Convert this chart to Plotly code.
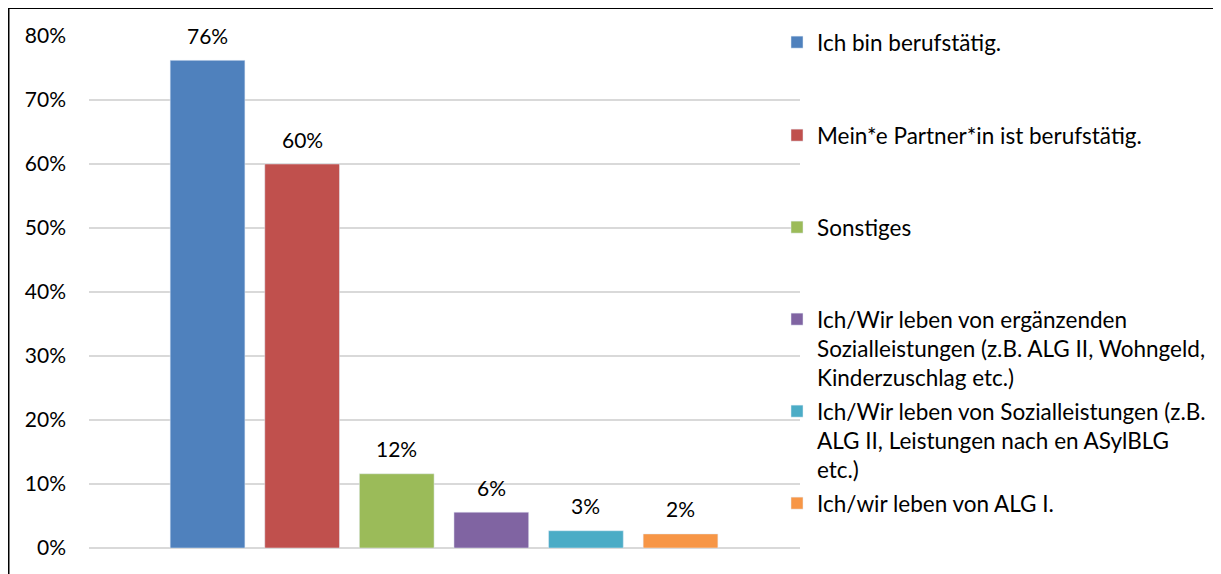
import plotly.graph_objects as go

# Werte aus der Umfrage (Anteil in %)
labels = [
    "Ich bin berufstätig.",
    "Mein*e Partner*in ist berufstätig.",
    "Sonstiges",
    "Ich/Wir leben von ergänzenden<br>Sozialleistungen (z.B. ALG II, Wohngeld,<br>Kinderzuschlag etc.)",
    "Ich/Wir leben von Sozialleistungen (z.B.<br>ALG II, Leistungen nach en ASylBLG<br>etc.)",
    "Ich/wir leben von ALG I.",
]
values = [76.2, 60.0, 11.6, 5.6, 2.7, 2.2]
colors = ["#4F81BD", "#C0504D", "#9BBB59", "#8064A2", "#4BACC6", "#F79646"]

# legend rows (pixel centre of first text line on the page)
legend_rows = [42, 135, 227, 319, 411, 503]

FONT = "Lato"
OFF = 8  # page offset of the figure in the browser
W, H = 1221, 574
# plot area in page pixels: x 89..800, y 36..548
L, T = 89 - OFF, 36 - OFF
R = W - (800 - OFF)
B = H - (548 - OFF)
pw, ph = W - L - R, H - T - B


def px_x(px):
    return (px - OFF - L) / pw


def px_y(py):
    return (H - B - (py - OFF)) / ph


fig = go.Figure()
for i, (name, v, c) in enumerate(zip(labels, values, colors)):
    key = "legend" if i == 0 else "legend%d" % (i + 1)
    fig.add_trace(go.Bar(
        x=[i], y=[v], name=name, marker_color=c, width=0.79,
        legend=key, hoverinfo="skip",
    ))
    fig.add_annotation(
        x=i, y=v, text="%d%%" % round(v), showarrow=False,
        yshift=25, yanchor="middle",
        font=dict(family=FONT, size=21, color="#000000"),
    )

legends = {}
for i, row in enumerate(legend_rows):
    key = "legend" if i == 0 else "legend%d" % (i + 1)
    legends[key] = dict(
        x=px_x(777), y=px_y(row - 21), xanchor="left", yanchor="top",
        valign="top", bgcolor="rgba(0,0,0,0)", itemwidth=30,
        font=dict(family=FONT, size=22.5, color="#000000"),
        itemclick=False, itemdoubleclick=False,
    )

fig.update_layout(
    width=W, height=H,
    margin=dict(l=L, r=R, t=T, b=B),
    paper_bgcolor="white", plot_bgcolor="white",
    barmode="overlay",
    font=dict(family=FONT, size=21, color="#000000"),
    showlegend=True,
    **legends,
)
fig.update_xaxes(range=[-1.253, 6.263], showticklabels=False, showgrid=False,
                 zeroline=False, showline=False, ticks="")
fig.update_yaxes(range=[0, 80], dtick=10, ticksuffix="%", showgrid=True,
                 gridcolor="#D9D9D9", gridwidth=1.5, zeroline=True,
                 zerolinecolor="#D9D9D9", zerolinewidth=1.5, showline=False,
                 ticks="", ticklabelstandoff=22,
                 tickfont=dict(family=FONT, size=21, color="#000000"))

# chart border (top and left edge visible)
fig.add_shape(type="line", xref="paper", yref="paper",
              x0=px_x(8.5), x1=px_x(W + 20), y0=px_y(8), y1=px_y(8),
              line=dict(color="#000000", width=2))
fig.add_shape(type="line", xref="paper", yref="paper",
              x0=px_x(8.5), x1=px_x(8.5), y0=px_y(8), y1=px_y(H + 20),
              line=dict(color="#000000", width=2))

fig.write_html("out.html")
